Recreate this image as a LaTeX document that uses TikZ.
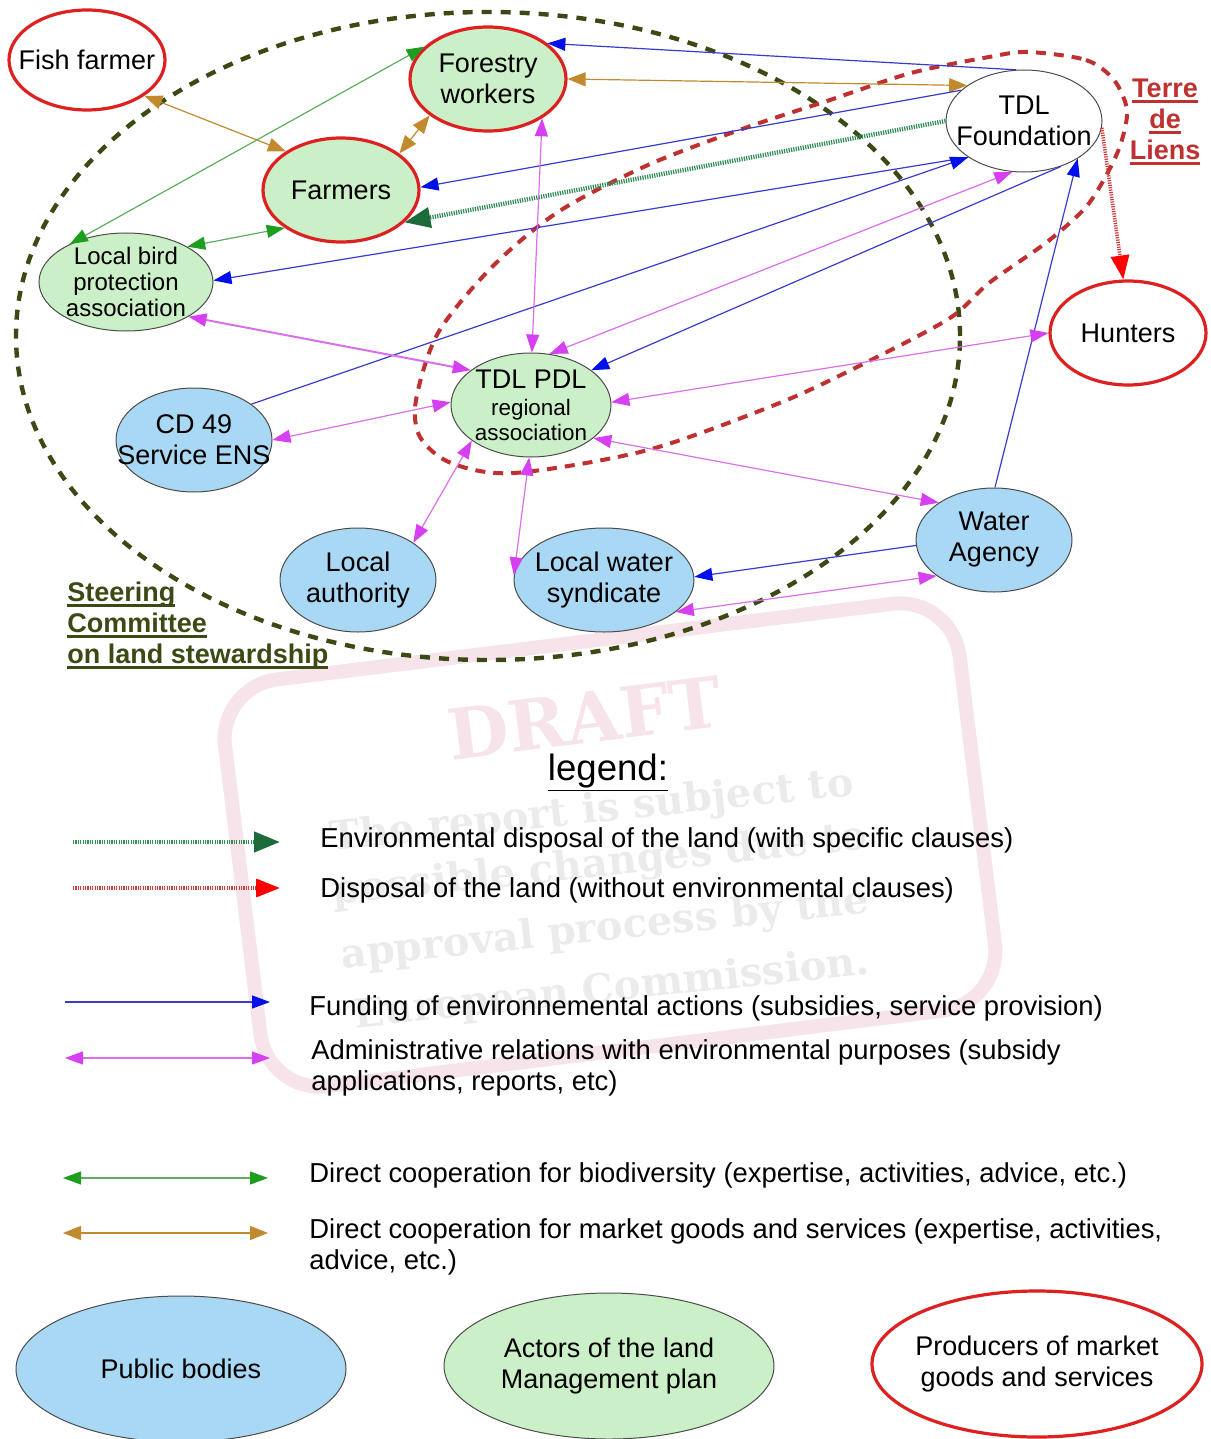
\documentclass[tikz,border=0pt]{standalone}
\usepackage{fontspec}
\setmainfont{Liberation Sans}
\newfontfamily\wmfont{DejaVu Serif}
\usetikzlibrary{arrows.meta,shapes.geometric}

\definecolor{pubfill}{HTML}{A9D8F4}
\definecolor{actfill}{HTML}{CBEFC6}
\definecolor{prodred}{HTML}{DD2020}
\definecolor{fundcol}{HTML}{3A3ACF}
\definecolor{fundtip}{HTML}{0010E8}
\definecolor{admcol}{HTML}{DA6FEA}
\definecolor{admtip}{HTML}{D63FF2}
\definecolor{biocol}{HTML}{5DAE5D}
\definecolor{biotip}{HTML}{1E9E1E}
\definecolor{mktcol}{HTML}{C18A2E}
\definecolor{envcol}{HTML}{2F8C55}
\definecolor{envtip}{HTML}{1D6B3B}
\definecolor{landcol}{HTML}{D03A3A}
\definecolor{committee}{HTML}{3B4A14}
\definecolor{tdlred}{HTML}{BF3030}
\definecolor{wmpink}{HTML}{F7E3EA}
\definecolor{wmgray}{HTML}{EBEBEB}

\newcommand\ulined[1]{\setbox0\hbox{#1}\rlap{\rule[-2.3pt]{\wd0}{1.1pt}}\box0}

\tikzset{
  bubble/.style={ellipse, draw=gray!60!black, line width=.5pt, inner sep=-14pt,
    align=center, minimum width=78pt, minimum height=52pt},
  public/.style={bubble, fill=pubfill},
  actor/.style={bubble, fill=actfill},
  producer/.style={bubble, draw=prodred, line width=1.6pt, fill=white},
  fund/.style={draw=fundcol, line width=.6pt, >={Triangle[length=9pt,width=6.5pt,color=fundtip]}, ->},
  admin/.style={draw=admcol, line width=.6pt, >={Triangle[length=9pt,width=6.5pt,color=admtip]}, <->},
  bio/.style={draw=biocol, line width=.6pt, >={Triangle[length=9pt,width=6.5pt,color=biotip]}, <->},
  market/.style={draw=mktcol, line width=.6pt, >={Triangle[length=9pt,width=7pt]}, <->},
  envdisp/.style={draw=envcol, line width=2.2pt, dash pattern=on .6pt off .6pt,
    >={Triangle[length=13pt,width=10pt,color=envtip]}, ->},
  landdisp/.style={draw=landcol, line width=1.8pt, dash pattern=on .6pt off .6pt,
    >={Triangle[length=12pt,width=9pt,color=red]}, ->},
  legtext/.style={anchor=base west, inner sep=0pt, font=\fontsize{13.7}{15.5}\selectfont},
  wm/.style={font=\wmfont\bfseries\fontsize{20}{22}\selectfont, text=wmgray, rotate=6}
}

\begin{document}
\begin{tikzpicture}[x=0.5pt, y=-0.5pt, font=\fontsize{13.5}{15.5}\selectfont]
\useasboundingbox (0,0) rectangle (1210,1439);

% draft stamp in the background
\begin{scope}[rotate around={7:(610,845)}]
  \draw[wmpink, line width=7pt, rounded corners=30pt] (240,640) rectangle (980,1050);
\end{scope}
\node[wm, text=wmpink, rotate=1, font=\wmfont\bfseries\fontsize{35}{37}\selectfont] (wmdraft) at (585,718) {DRAFT};
\node[wm] (wm1) at (592,812) {The report is subject to};
\node[wm] (wm2) at (600,866) {possible changes due to};
\node[wm] (wm3) at (605,930) {approval process by the};
\node[wm] (wm4) at (612,990) {European Commission.};

% steering committee and Terre de Liens outlines
\draw[committee, line width=2.2pt, dash pattern=on 5pt off 4.5pt] (488,336) ellipse [x radius=236pt, y radius=162pt];
\draw[tdlred, line width=2pt, dash pattern=on 5pt off 4pt] plot[smooth cycle] coordinates {
  (1028,52) (1086,60) (1114,80) (1127,110) (1121,143) (1108,172) (1086,207) (1047,242)
  (989,283) (950,318) (871,360) (782,402) (648,450) (514,473) (451,463) (420,437)
  (416,400) (438,333) (492,267) (558,212) (648,165) (745,128) (830,100) (911,73) (989,57)};

\node[anchor=north west, inner sep=0pt, align=left, text=committee, font=\bfseries\fontsize{13.5}{15.5}\selectfont] (steer) at (67,582)
  {\ulined{Steering}\\\ulined{Committee}\\\ulined{on land stewardship}};
\node[align=center, text=tdlred, font=\bfseries\fontsize{13.5}{15.5}\selectfont] (tdltitle) at (1165,122)
  {\ulined{Terre}\\\ulined{de}\\\ulined{Liens}};

% actors
\node[producer, minimum height=50pt] (fish) at (87,60) {Fish farmer};
\node[producer, fill=actfill] (forest) at (488,79) {Forestry\\workers};
\node[producer, fill=actfill] (farm) at (341,190) {Farmers};
\node[bubble, fill=white, minimum height=51pt] (found) at (1024,121) {TDL\\Foundation};
\node[actor, minimum width=87pt, minimum height=49pt, font=\fontsize{12}{13}\selectfont] (birds) at (126,282)
  {Local bird\\protection\\association};
\node[producer] (hunt) at (1128,333) {Hunters};
\node[actor, minimum width=80pt] (pdl) at (531,405)
  {TDL PDL\\[-2pt]{\fontsize{11.2}{12.5}\selectfont regional}\\[-3pt]{\fontsize{11.2}{12.5}\selectfont association}};
\node[public] (cd) at (194,440) {CD 49\\Service ENS};
\node[public] (wagency) at (994,540) {Water\\Agency};
\node[public] (locauth) at (358,580) {Local\\authority};
\node[public, minimum width=90pt] (syndic) at (604,580) {Local water\\syndicate};

% relations
\draw[market] (fish.-32) -- (farm.145);
\draw[market] (farm.32) -- (forest.212);
\draw[market] (forest.0) -- (found.148);
\draw[fund] (found.99) -- (forest.31);
\draw[fund] (found.154) -- (farm.2);
\draw[envdisp] (found.180) -- (farm.-27);
\draw[fund] (found.213) -- (birds.1);
\draw[fund] (cd.32) -- (found.213);
\draw[admin] (pdl.70) -- (found.257);
\draw[admin] (forest.-36) -- (pdl.89);
\draw[fund] (found.-51) -- (pdl.30);
\draw[fund] (wagency.89) -- (found.-35);
\draw[landdisp] (found.-5) -- (hunt.95);
\draw[admin] (hunt.180) -- (pdl.2);
\draw[admin] (pdl.-28) -- (wagency.146);
\draw[admin, line width=1pt] (birds.-29) -- (pdl.150);
\draw[admin] (cd.0) -- (pdl.178);
\draw[admin] (pdl.211) -- (locauth.34);
\draw[admin] (pdl.268) -- (syndic.177);
\draw[fund] (wagency.184) -- (syndic.2);
\draw[admin] (syndic.-24) -- (wagency.212);
\draw[bio] (birds.146) -- (forest.153);
\draw[bio] (birds.30) -- (farm.214);

% legend
\node[font=\fontsize{18.3}{20}\selectfont] (legtitle) at (608,773) {\underline{legend:}};

\coordinate (e1) at (73,842);  \coordinate (e2) at (280,842);
\coordinate (d1) at (73,888);  \coordinate (d2) at (280,888);
\coordinate (f1) at (65,1002); \coordinate (f2) at (270,1002);
\coordinate (a1) at (65,1058); \coordinate (a2) at (270,1058);
\coordinate (b1) at (63,1178); \coordinate (b2) at (268,1178);
\coordinate (m1) at (63,1233); \coordinate (m2) at (268,1233);
\draw[envdisp] (e1) -- (e2);
\draw[landdisp] (d1) -- (d2);
\draw[fund] (f1) -- (f2);
\draw[admin] (a1) -- (a2);
\draw[bio] (b1) -- (b2);
\draw[market] (m1) -- (m2);

\node[legtext] (t1) at (320,847) {Environmental disposal of the land (with specific clauses)};
\node[legtext] (t2) at (320,897) {Disposal of the land (without environmental clauses)};
\node[legtext] (t3) at (309,1015) {Funding of environnemental actions (subsidies, service provision)};
\node[legtext, anchor=north west, align=left] (t4) at (311,1039)
  {Administrative relations with environmental purposes (subsidy\\applications, reports, etc)};
\node[legtext] (t5) at (309,1182) {Direct cooperation for biodiversity (expertise, activities, advice, etc.)};
\node[legtext, anchor=north west, align=left] (t6) at (309,1218)
  {Direct cooperation for market goods and services (expertise, activities,\\advice, etc.)};

\node[public, minimum width=165pt, minimum height=73pt] (kpub) at (181,1369) {Public bodies};
\node[actor, minimum width=165pt, minimum height=73pt] (kact) at (609,1366) {Actors of the land\\Management plan};
\node[producer, minimum width=165pt, minimum height=73pt] (kprod) at (1037,1364) {Producers of market\\goods and services};
\end{tikzpicture}
\end{document}
